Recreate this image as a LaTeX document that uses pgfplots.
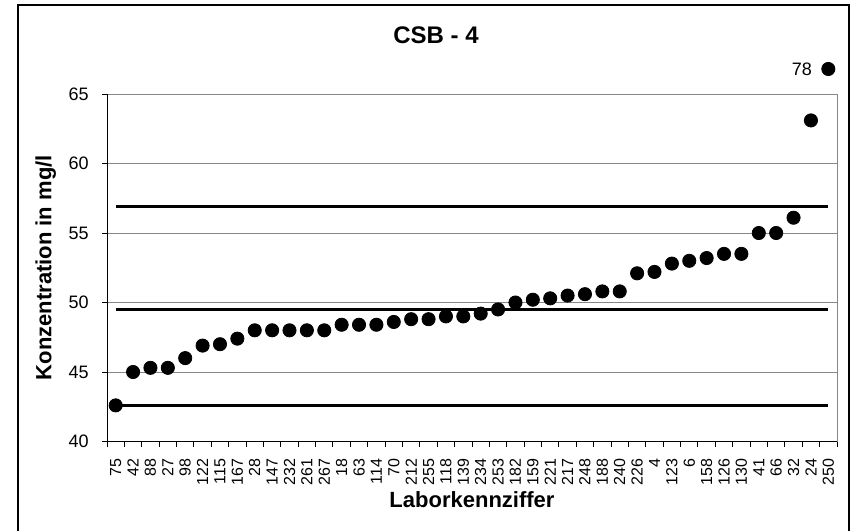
\documentclass[border=0pt]{standalone}
\usepackage{fontspec}
\setmainfont{Liberation Sans}
\usepackage{pgfplots}
\pgfplotsset{compat=1.18}
\definecolor{gridgray}{RGB}{135,135,135}
\begin{document}
\begin{tikzpicture}
\path[fill=white] (0,0) rectangle (430.5pt,-265.5pt);
\draw[line width=0.6pt] (9pt,-265.5pt) -- (9pt,-2.5pt) -- (424.5pt,-2.5pt) -- (424.5pt,-265.5pt);
\node[font=\bfseries\fontsize{12}{14}\selectfont, inner sep=0pt] at (218pt,-17.85pt) {CSB - 4};
\begin{axis}[
  at={(53.5pt,-220.75pt)}, anchor=south west,
  width=365pt, height=173.75pt, scale only axis,
  xmin=0.5, xmax=42.5, ymin=40, ymax=65,
  clip=false,
  axis x line*=bottom, axis y line*=left,
  axis line style={-, black, line width=0.5pt},
  tick align=outside,
  major tick length=2.5pt,
  tick style={black, line width=0.5pt},
  ytick={40,45,...,65},
  ymajorgrids=true,
  grid style={gridgray, line width=0.5pt},
  xtick={0.5,1.5,...,42.5},
  xticklabels={},
  extra x ticks={1,2,...,42},
  extra x tick labels={75,42,88,27,98,122,115,167,28,147,232,261,267,18,63,114,70,212,255,118,139,234,253,182,159,221,217,248,188,240,226,4,123,6,158,126,130,41,66,32,24,250},
  extra x tick style={grid=none, major tick length=0pt,
    tick label style={rotate=90, anchor=east, inner sep=0pt, inner xsep=8.5pt, font=\fontsize{8}{9}\selectfont}},
  /pgf/number format/assume math mode=true,
  yticklabel style={anchor=east, inner sep=0pt, inner xsep=6.5pt, font=\fontsize{9}{10}\selectfont},
  xlabel={Laborkennziffer},
  xlabel style={at={(axis description cs:0.5,-0.166)}, anchor=center, font=\bfseries\fontsize{11}{13}\selectfont},
  ylabel={Konzentration in mg/l},
  ylabel style={at={(axis description cs:-0.0838,0.5)}, anchor=center, font=\bfseries\fontsize{11}{13}\selectfont},
]
\draw[gridgray, line width=0.5pt] (rel axis cs:1,0) -- (rel axis cs:1,1);
\addplot[black, line width=1.3pt, no marks] coordinates {(1,42.6) (42,42.6)};
\addplot[black, line width=1.3pt, no marks] coordinates {(1,49.5) (42,49.5)};
\addplot[black, line width=1.3pt, no marks] coordinates {(1,56.9) (42,56.9)};
\addplot[only marks, mark=*, mark size=3.3pt, black] coordinates {
(1,42.6) (2,45.0) (3,45.3) (4,45.3) (5,46.0) (6,46.9) (7,47.0) (8,47.4)
(9,48.0) (10,48.0) (11,48.0) (12,48.0) (13,48.0) (14,48.4) (15,48.4) (16,48.4)
(17,48.6) (18,48.8) (19,48.8) (20,49.0) (21,49.0) (22,49.2) (23,49.5) (24,50.0)
(25,50.2) (26,50.3) (27,50.5) (28,50.6) (29,50.8) (30,50.8) (31,52.1) (32,52.2)
(33,52.8) (34,53.0) (35,53.2) (36,53.5) (37,53.5) (38,55.0) (39,55.0) (40,56.1)
(41,63.1) (42,66.8)};
\node[anchor=east, inner sep=0pt, font=\fontsize{9}{10}\selectfont, xshift=-8pt] at (axis cs:42,66.8) {78};
\end{axis}
\pgfresetboundingbox
\useasboundingbox (0,0) rectangle (430.5pt,-265.5pt);
\end{tikzpicture}
\end{document}
